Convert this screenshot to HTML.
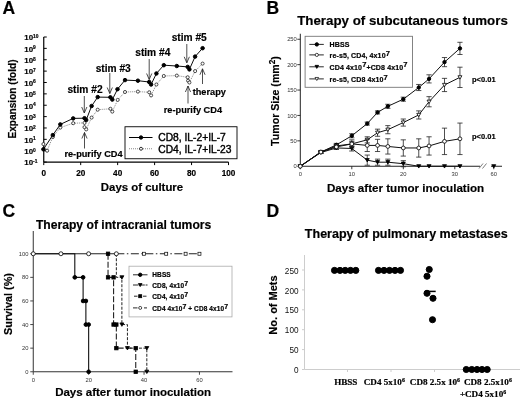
<!DOCTYPE html>
<html><head><meta charset="utf-8"><title>Figure</title>
<style>html,body{margin:0;padding:0;background:#fff}svg{display:block;filter:grayscale(1);will-change:transform}text[font-weight=bold]{stroke:#000;stroke-width:0.18px}</style>
</head><body>
<svg width="520" height="399" viewBox="0 0 520 399" font-family='"Liberation Sans", Arial, Helvetica, sans-serif'>
<rect width="520" height="399" fill="#fff"/>
<g id="panelA">
<text x="2.5" y="14" font-size="17.5" font-weight="bold" text-anchor="start" fill="#000" >A</text>
<line x1="43.75" y1="37.00" x2="43.75" y2="162.10" stroke="#000" stroke-width="1.2" />
<line x1="43.75" y1="162.10" x2="228.50" y2="162.10" stroke="#000" stroke-width="1.2" />
<line x1="43.75" y1="162.10" x2="46.75" y2="162.10" stroke="#000" stroke-width="1" />
<text x="24.3" y="165.40" font-size="7.9" font-weight="bold">10<tspan font-size="4.9" dy="-2.3">-1</tspan></text>
<line x1="43.75" y1="150.73" x2="46.75" y2="150.73" stroke="#000" stroke-width="1" />
<text x="24.3" y="154.03" font-size="7.9" font-weight="bold">10<tspan font-size="4.9" dy="-2.3">0</tspan></text>
<line x1="43.75" y1="139.35" x2="46.75" y2="139.35" stroke="#000" stroke-width="1" />
<text x="24.3" y="142.65" font-size="7.9" font-weight="bold">10<tspan font-size="4.9" dy="-2.3">1</tspan></text>
<line x1="43.75" y1="127.98" x2="46.75" y2="127.98" stroke="#000" stroke-width="1" />
<text x="24.3" y="131.28" font-size="7.9" font-weight="bold">10<tspan font-size="4.9" dy="-2.3">2</tspan></text>
<line x1="43.75" y1="116.61" x2="46.75" y2="116.61" stroke="#000" stroke-width="1" />
<text x="24.3" y="119.91" font-size="7.9" font-weight="bold">10<tspan font-size="4.9" dy="-2.3">3</tspan></text>
<line x1="43.75" y1="105.24" x2="46.75" y2="105.24" stroke="#000" stroke-width="1" />
<text x="24.3" y="108.54" font-size="7.9" font-weight="bold">10<tspan font-size="4.9" dy="-2.3">4</tspan></text>
<line x1="43.75" y1="93.86" x2="46.75" y2="93.86" stroke="#000" stroke-width="1" />
<text x="24.3" y="97.16" font-size="7.9" font-weight="bold">10<tspan font-size="4.9" dy="-2.3">5</tspan></text>
<line x1="43.75" y1="82.49" x2="46.75" y2="82.49" stroke="#000" stroke-width="1" />
<text x="24.3" y="85.79" font-size="7.9" font-weight="bold">10<tspan font-size="4.9" dy="-2.3">6</tspan></text>
<line x1="43.75" y1="71.12" x2="46.75" y2="71.12" stroke="#000" stroke-width="1" />
<text x="24.3" y="74.42" font-size="7.9" font-weight="bold">10<tspan font-size="4.9" dy="-2.3">7</tspan></text>
<line x1="43.75" y1="59.75" x2="46.75" y2="59.75" stroke="#000" stroke-width="1" />
<text x="24.3" y="63.05" font-size="7.9" font-weight="bold">10<tspan font-size="4.9" dy="-2.3">8</tspan></text>
<line x1="43.75" y1="48.37" x2="46.75" y2="48.37" stroke="#000" stroke-width="1" />
<text x="24.3" y="51.67" font-size="7.9" font-weight="bold">10<tspan font-size="4.9" dy="-2.3">9</tspan></text>
<line x1="43.75" y1="37.00" x2="46.75" y2="37.00" stroke="#000" stroke-width="1" />
<text x="24.3" y="40.30" font-size="7.9" font-weight="bold">10<tspan font-size="4.9" dy="-2.3">10</tspan></text>
<line x1="43.75" y1="162.10" x2="43.75" y2="165.10" stroke="#000" stroke-width="1" />
<text x="43.75" y="175.8" font-size="8.2" font-weight="bold" text-anchor="middle" fill="#000" >0</text>
<line x1="80.70" y1="162.10" x2="80.70" y2="165.10" stroke="#000" stroke-width="1" />
<text x="80.70" y="175.8" font-size="8.2" font-weight="bold" text-anchor="middle" fill="#000" >20</text>
<line x1="117.65" y1="162.10" x2="117.65" y2="165.10" stroke="#000" stroke-width="1" />
<text x="117.65" y="175.8" font-size="8.2" font-weight="bold" text-anchor="middle" fill="#000" >40</text>
<line x1="154.60" y1="162.10" x2="154.60" y2="165.10" stroke="#000" stroke-width="1" />
<text x="154.60" y="175.8" font-size="8.2" font-weight="bold" text-anchor="middle" fill="#000" >60</text>
<line x1="191.55" y1="162.10" x2="191.55" y2="165.10" stroke="#000" stroke-width="1" />
<text x="191.55" y="175.8" font-size="8.2" font-weight="bold" text-anchor="middle" fill="#000" >80</text>
<line x1="228.50" y1="162.10" x2="228.50" y2="165.10" stroke="#000" stroke-width="1" />
<text x="228.50" y="175.8" font-size="8.2" font-weight="bold" text-anchor="middle" fill="#000" >100</text>
<text x="142" y="191.3" font-size="11.4" font-weight="bold" text-anchor="middle" fill="#000" >Days of culture</text>
<text transform="translate(16,99) rotate(-90)" font-size="10.1" font-weight="bold" text-anchor="middle">Expansion (fold)</text>
<polyline points="43.40,144.10 47.10,150.70 52.80,137.00 60.30,127.60 73.20,123.20 84.50,122.90 84.50,127.20 86.20,129.40 91.60,117.60 97.70,109.70 110.40,108.80 112.30,111.60 117.70,99.90 125.00,92.00 137.90,91.60 149.20,92.30 151.10,95.40 156.40,84.50 163.80,76.00 176.80,75.60 187.70,77.30 188.10,80.70 189.40,82.50 195.10,71.10 202.60,63.60" fill="none" stroke="#555" stroke-width="0.7" stroke-dasharray="1,1"/>
<polyline points="43.40,149.30 52.80,135.10 60.30,124.40 73.20,118.40 84.50,118.20 86.20,120.00 91.60,106.00 97.70,97.10 110.40,97.30 112.30,99.60 117.50,89.20 125.00,80.10 137.90,80.70 149.20,82.00 151.10,84.50 156.40,73.50 163.80,65.20 176.80,66.00 187.70,66.90 189.40,69.40 195.10,56.60 202.60,48.20" fill="none" stroke="#000" stroke-width="0.95" />
<circle cx="43.40" cy="144.10" r="1.55" fill="#fff" stroke="#111" stroke-width="0.75"/>
<circle cx="47.10" cy="150.70" r="1.55" fill="#fff" stroke="#111" stroke-width="0.75"/>
<circle cx="52.80" cy="137.00" r="1.55" fill="#fff" stroke="#111" stroke-width="0.75"/>
<circle cx="60.30" cy="127.60" r="1.55" fill="#fff" stroke="#111" stroke-width="0.75"/>
<circle cx="73.20" cy="123.20" r="1.55" fill="#fff" stroke="#111" stroke-width="0.75"/>
<circle cx="84.50" cy="122.90" r="1.55" fill="#fff" stroke="#111" stroke-width="0.75"/>
<circle cx="84.50" cy="127.20" r="1.55" fill="#fff" stroke="#111" stroke-width="0.75"/>
<circle cx="86.20" cy="129.40" r="1.55" fill="#fff" stroke="#111" stroke-width="0.75"/>
<circle cx="91.60" cy="117.60" r="1.55" fill="#fff" stroke="#111" stroke-width="0.75"/>
<circle cx="97.70" cy="109.70" r="1.55" fill="#fff" stroke="#111" stroke-width="0.75"/>
<circle cx="110.40" cy="108.80" r="1.55" fill="#fff" stroke="#111" stroke-width="0.75"/>
<circle cx="112.30" cy="111.60" r="1.55" fill="#fff" stroke="#111" stroke-width="0.75"/>
<circle cx="117.70" cy="99.90" r="1.55" fill="#fff" stroke="#111" stroke-width="0.75"/>
<circle cx="125.00" cy="92.00" r="1.55" fill="#fff" stroke="#111" stroke-width="0.75"/>
<circle cx="137.90" cy="91.60" r="1.55" fill="#fff" stroke="#111" stroke-width="0.75"/>
<circle cx="149.20" cy="92.30" r="1.55" fill="#fff" stroke="#111" stroke-width="0.75"/>
<circle cx="151.10" cy="95.40" r="1.55" fill="#fff" stroke="#111" stroke-width="0.75"/>
<circle cx="156.40" cy="84.50" r="1.55" fill="#fff" stroke="#111" stroke-width="0.75"/>
<circle cx="163.80" cy="76.00" r="1.55" fill="#fff" stroke="#111" stroke-width="0.75"/>
<circle cx="176.80" cy="75.60" r="1.55" fill="#fff" stroke="#111" stroke-width="0.75"/>
<circle cx="187.70" cy="77.30" r="1.55" fill="#fff" stroke="#111" stroke-width="0.75"/>
<circle cx="188.10" cy="80.70" r="1.55" fill="#fff" stroke="#111" stroke-width="0.75"/>
<circle cx="189.40" cy="82.50" r="1.55" fill="#fff" stroke="#111" stroke-width="0.75"/>
<circle cx="195.10" cy="71.10" r="1.55" fill="#fff" stroke="#111" stroke-width="0.75"/>
<circle cx="202.60" cy="63.60" r="1.55" fill="#fff" stroke="#111" stroke-width="0.75"/>
<circle cx="43.40" cy="149.30" r="1.75" fill="#000" stroke="#000" stroke-width="1"/>
<circle cx="52.80" cy="135.10" r="1.75" fill="#000" stroke="#000" stroke-width="1"/>
<circle cx="60.30" cy="124.40" r="1.75" fill="#000" stroke="#000" stroke-width="1"/>
<circle cx="73.20" cy="118.40" r="1.75" fill="#000" stroke="#000" stroke-width="1"/>
<circle cx="84.50" cy="118.20" r="1.75" fill="#000" stroke="#000" stroke-width="1"/>
<circle cx="86.20" cy="120.00" r="1.75" fill="#000" stroke="#000" stroke-width="1"/>
<circle cx="91.60" cy="106.00" r="1.75" fill="#000" stroke="#000" stroke-width="1"/>
<circle cx="97.70" cy="97.10" r="1.75" fill="#000" stroke="#000" stroke-width="1"/>
<circle cx="110.40" cy="97.30" r="1.75" fill="#000" stroke="#000" stroke-width="1"/>
<circle cx="112.30" cy="99.60" r="1.75" fill="#000" stroke="#000" stroke-width="1"/>
<circle cx="117.50" cy="89.20" r="1.75" fill="#000" stroke="#000" stroke-width="1"/>
<circle cx="125.00" cy="80.10" r="1.75" fill="#000" stroke="#000" stroke-width="1"/>
<circle cx="137.90" cy="80.70" r="1.75" fill="#000" stroke="#000" stroke-width="1"/>
<circle cx="149.20" cy="82.00" r="1.75" fill="#000" stroke="#000" stroke-width="1"/>
<circle cx="151.10" cy="84.50" r="1.75" fill="#000" stroke="#000" stroke-width="1"/>
<circle cx="156.40" cy="73.50" r="1.75" fill="#000" stroke="#000" stroke-width="1"/>
<circle cx="163.80" cy="65.20" r="1.75" fill="#000" stroke="#000" stroke-width="1"/>
<circle cx="176.80" cy="66.00" r="1.75" fill="#000" stroke="#000" stroke-width="1"/>
<circle cx="187.70" cy="66.90" r="1.75" fill="#000" stroke="#000" stroke-width="1"/>
<circle cx="189.40" cy="69.40" r="1.75" fill="#000" stroke="#000" stroke-width="1"/>
<circle cx="195.10" cy="56.60" r="1.75" fill="#000" stroke="#000" stroke-width="1"/>
<circle cx="202.60" cy="48.20" r="1.75" fill="#000" stroke="#000" stroke-width="1"/>
<text x="85" y="93" font-size="10.2" font-weight="bold" text-anchor="middle" fill="#000" >stim #2</text>
<line x1="84.30" y1="96.00" x2="84.30" y2="113.00" stroke="#222" stroke-width="0.8" />
<polyline points="81.70,107.00 84.30,113.00 86.90,107.00" fill="none" stroke="#222" stroke-width="0.8" />
<text x="113.2" y="71.5" font-size="10.2" font-weight="bold" text-anchor="middle" fill="#000" >stim #3</text>
<line x1="109.80" y1="73.00" x2="109.80" y2="93.50" stroke="#222" stroke-width="0.8" />
<polyline points="107.20,87.50 109.80,93.50 112.40,87.50" fill="none" stroke="#222" stroke-width="0.8" />
<text x="152.8" y="55.7" font-size="10.2" font-weight="bold" text-anchor="middle" fill="#000" >stim #4</text>
<line x1="149.20" y1="59.00" x2="149.20" y2="79.50" stroke="#222" stroke-width="0.8" />
<polyline points="146.60,73.50 149.20,79.50 151.80,73.50" fill="none" stroke="#222" stroke-width="0.8" />
<text x="189.2" y="40.5" font-size="10.2" font-weight="bold" text-anchor="middle" fill="#000" >stim #5</text>
<line x1="186.80" y1="44.00" x2="186.80" y2="62.80" stroke="#222" stroke-width="0.8" />
<polyline points="184.20,56.80 186.80,62.80 189.40,56.80" fill="none" stroke="#222" stroke-width="0.8" />
<text x="93.5" y="157" font-size="9.2" font-weight="bold" text-anchor="middle" fill="#000" >re-purify CD4</text>
<line x1="84.50" y1="148.50" x2="84.50" y2="132.50" stroke="#222" stroke-width="0.8" />
<polyline points="81.90,138.50 84.50,132.50 87.10,138.50" fill="none" stroke="#222" stroke-width="0.8" />
<text x="192.9" y="112.7" font-size="9.2" font-weight="bold" text-anchor="middle" fill="#000" >re-purify CD4</text>
<line x1="188.00" y1="103.50" x2="188.00" y2="86.00" stroke="#222" stroke-width="0.8" />
<polyline points="185.40,92.00 188.00,86.00 190.60,92.00" fill="none" stroke="#222" stroke-width="0.8" />
<text x="209.3" y="95.2" font-size="9.2" font-weight="bold" text-anchor="middle" fill="#000" >therapy</text>
<line x1="202.50" y1="84.00" x2="202.50" y2="68.80" stroke="#222" stroke-width="0.8" />
<polyline points="199.90,74.80 202.50,68.80 205.10,74.80" fill="none" stroke="#222" stroke-width="0.8" />
<rect x="125" y="126.75" width="112" height="32" fill="#fff" stroke="#000" stroke-width="0.9"/>
<line x1="129.00" y1="137.50" x2="152.50" y2="137.50" stroke="#000" stroke-width="1" />
<circle cx="141.00" cy="137.50" r="1.7" fill="#000" stroke="#000" stroke-width="1"/>
<line x1="129.00" y1="148.75" x2="152.50" y2="148.75" stroke="#555" stroke-width="0.7" stroke-dasharray="1,1"/>
<circle cx="141.00" cy="148.75" r="1.5" fill="#fff" stroke="#000" stroke-width="0.8"/>
<text x="158.3" y="141.2" font-size="10.25" font-weight="normal" text-anchor="start" fill="#000" stroke="#000" stroke-width="0.4">CD8, IL-2+IL-7</text>
<text x="158.3" y="152.5" font-size="10.25" font-weight="normal" text-anchor="start" fill="#000" stroke="#000" stroke-width="0.4">CD4, IL-7+IL-23</text>
</g>
<g id="panelB">
<text x="266.5" y="14" font-size="17.5" font-weight="bold" text-anchor="start" fill="#000" >B</text>
<text x="402.5" y="24.9" font-size="13.3" font-weight="bold" text-anchor="middle" fill="#000" >Therapy of subcutaneous tumors</text>
<line x1="300.30" y1="33.75" x2="300.30" y2="166.25" stroke="#222" stroke-width="1" />
<line x1="300.30" y1="166.25" x2="480.00" y2="166.25" stroke="#222" stroke-width="1" />
<line x1="491.00" y1="166.25" x2="502.00" y2="166.25" stroke="#222" stroke-width="1" />
<line x1="479.00" y1="168.50" x2="483.00" y2="163.50" stroke="#444" stroke-width="0.7" />
<line x1="482.50" y1="168.50" x2="486.50" y2="163.50" stroke="#444" stroke-width="0.7" />
<line x1="297.30" y1="166.25" x2="300.30" y2="166.25" stroke="#222" stroke-width="0.9" />
<text x="296.8" y="168.35" font-size="5.8" font-weight="normal" text-anchor="end" fill="#333" >0</text>
<line x1="297.30" y1="140.85" x2="300.30" y2="140.85" stroke="#222" stroke-width="0.9" />
<text x="296.8" y="142.95" font-size="5.8" font-weight="normal" text-anchor="end" fill="#333" >50</text>
<line x1="297.30" y1="115.45" x2="300.30" y2="115.45" stroke="#222" stroke-width="0.9" />
<text x="296.8" y="117.55" font-size="5.8" font-weight="normal" text-anchor="end" fill="#333" >100</text>
<line x1="297.30" y1="90.05" x2="300.30" y2="90.05" stroke="#222" stroke-width="0.9" />
<text x="296.8" y="92.15" font-size="5.8" font-weight="normal" text-anchor="end" fill="#333" >150</text>
<line x1="297.30" y1="64.65" x2="300.30" y2="64.65" stroke="#222" stroke-width="0.9" />
<text x="296.8" y="66.75" font-size="5.8" font-weight="normal" text-anchor="end" fill="#333" >200</text>
<line x1="297.30" y1="39.25" x2="300.30" y2="39.25" stroke="#222" stroke-width="0.9" />
<text x="296.8" y="41.35" font-size="5.8" font-weight="normal" text-anchor="end" fill="#333" >250</text>
<line x1="300.30" y1="166.25" x2="300.30" y2="169.25" stroke="#222" stroke-width="0.9" />
<text x="300.30" y="176" font-size="5.8" font-weight="normal" text-anchor="middle" fill="#333" >0</text>
<line x1="351.80" y1="166.25" x2="351.80" y2="169.25" stroke="#222" stroke-width="0.9" />
<text x="351.80" y="176" font-size="5.8" font-weight="normal" text-anchor="middle" fill="#333" >10</text>
<line x1="403.30" y1="166.25" x2="403.30" y2="169.25" stroke="#222" stroke-width="0.9" />
<text x="403.30" y="176" font-size="5.8" font-weight="normal" text-anchor="middle" fill="#333" >20</text>
<line x1="454.80" y1="166.25" x2="454.80" y2="169.25" stroke="#222" stroke-width="0.9" />
<text x="454.80" y="176" font-size="5.8" font-weight="normal" text-anchor="middle" fill="#333" >30</text>
<line x1="493.75" y1="166.25" x2="493.75" y2="169.25" stroke="#222" stroke-width="0.9" />
<text x="493.75" y="176" font-size="5.8" font-weight="normal" text-anchor="middle" fill="#333" >60</text>
<text x="405.5" y="191.8" font-size="11.6" font-weight="bold" text-anchor="middle" fill="#000" >Days after tumor inoculation</text>
<text transform="translate(278.8,101) rotate(-90)" font-size="10.6" font-weight="bold" text-anchor="middle">Tumor Size (mm<tspan font-size="8.3" dy="-4.3">2</tspan><tspan dy="4.3">)</tspan></text>
<line x1="320.90" y1="151.01" x2="320.90" y2="153.04" stroke="#222" stroke-width="0.8" />
<line x1="318.30" y1="151.01" x2="323.50" y2="151.01" stroke="#222" stroke-width="0.8" />
<line x1="318.30" y1="153.04" x2="323.50" y2="153.04" stroke="#222" stroke-width="0.8" />
<line x1="336.35" y1="143.39" x2="336.35" y2="146.44" stroke="#222" stroke-width="0.8" />
<line x1="333.75" y1="143.39" x2="338.95" y2="143.39" stroke="#222" stroke-width="0.8" />
<line x1="333.75" y1="146.44" x2="338.95" y2="146.44" stroke="#222" stroke-width="0.8" />
<line x1="351.80" y1="133.74" x2="351.80" y2="137.80" stroke="#222" stroke-width="0.8" />
<line x1="349.20" y1="133.74" x2="354.40" y2="133.74" stroke="#222" stroke-width="0.8" />
<line x1="349.20" y1="137.80" x2="354.40" y2="137.80" stroke="#222" stroke-width="0.8" />
<line x1="367.25" y1="122.05" x2="367.25" y2="125.10" stroke="#222" stroke-width="0.8" />
<line x1="364.65" y1="122.05" x2="369.85" y2="122.05" stroke="#222" stroke-width="0.8" />
<line x1="364.65" y1="125.10" x2="369.85" y2="125.10" stroke="#222" stroke-width="0.8" />
<line x1="377.55" y1="110.88" x2="377.55" y2="113.93" stroke="#222" stroke-width="0.8" />
<line x1="374.95" y1="110.88" x2="380.15" y2="110.88" stroke="#222" stroke-width="0.8" />
<line x1="374.95" y1="113.93" x2="380.15" y2="113.93" stroke="#222" stroke-width="0.8" />
<line x1="387.85" y1="104.27" x2="387.85" y2="108.34" stroke="#222" stroke-width="0.8" />
<line x1="385.25" y1="104.27" x2="390.45" y2="104.27" stroke="#222" stroke-width="0.8" />
<line x1="385.25" y1="108.34" x2="390.45" y2="108.34" stroke="#222" stroke-width="0.8" />
<line x1="403.30" y1="97.16" x2="403.30" y2="101.23" stroke="#222" stroke-width="0.8" />
<line x1="400.70" y1="97.16" x2="405.90" y2="97.16" stroke="#222" stroke-width="0.8" />
<line x1="400.70" y1="101.23" x2="405.90" y2="101.23" stroke="#222" stroke-width="0.8" />
<line x1="418.75" y1="84.46" x2="418.75" y2="90.56" stroke="#222" stroke-width="0.8" />
<line x1="416.15" y1="84.46" x2="421.35" y2="84.46" stroke="#222" stroke-width="0.8" />
<line x1="416.15" y1="90.56" x2="421.35" y2="90.56" stroke="#222" stroke-width="0.8" />
<line x1="429.05" y1="74.81" x2="429.05" y2="82.94" stroke="#222" stroke-width="0.8" />
<line x1="426.45" y1="74.81" x2="431.65" y2="74.81" stroke="#222" stroke-width="0.8" />
<line x1="426.45" y1="82.94" x2="431.65" y2="82.94" stroke="#222" stroke-width="0.8" />
<line x1="444.50" y1="57.54" x2="444.50" y2="66.68" stroke="#222" stroke-width="0.8" />
<line x1="441.90" y1="57.54" x2="447.10" y2="57.54" stroke="#222" stroke-width="0.8" />
<line x1="441.90" y1="66.68" x2="447.10" y2="66.68" stroke="#222" stroke-width="0.8" />
<line x1="459.95" y1="42.30" x2="459.95" y2="54.49" stroke="#222" stroke-width="0.8" />
<line x1="457.35" y1="42.30" x2="462.55" y2="42.30" stroke="#222" stroke-width="0.8" />
<line x1="457.35" y1="54.49" x2="462.55" y2="54.49" stroke="#222" stroke-width="0.8" />
<polyline points="300.30,166.25 320.90,152.03 336.35,144.91 351.80,135.77 367.25,123.58 377.55,112.40 387.85,106.31 403.30,99.19 418.75,87.51 429.05,78.87 444.50,62.11 459.95,48.39" fill="none" stroke="#111" stroke-width="1.0" />
<circle cx="300.30" cy="166.25" r="1.7" fill="#000" stroke="#000" stroke-width="1"/>
<circle cx="320.90" cy="152.03" r="1.7" fill="#000" stroke="#000" stroke-width="1"/>
<circle cx="336.35" cy="144.91" r="1.7" fill="#000" stroke="#000" stroke-width="1"/>
<circle cx="351.80" cy="135.77" r="1.7" fill="#000" stroke="#000" stroke-width="1"/>
<circle cx="367.25" cy="123.58" r="1.7" fill="#000" stroke="#000" stroke-width="1"/>
<circle cx="377.55" cy="112.40" r="1.7" fill="#000" stroke="#000" stroke-width="1"/>
<circle cx="387.85" cy="106.31" r="1.7" fill="#000" stroke="#000" stroke-width="1"/>
<circle cx="403.30" cy="99.19" r="1.7" fill="#000" stroke="#000" stroke-width="1"/>
<circle cx="418.75" cy="87.51" r="1.7" fill="#000" stroke="#000" stroke-width="1"/>
<circle cx="429.05" cy="78.87" r="1.7" fill="#000" stroke="#000" stroke-width="1"/>
<circle cx="444.50" cy="62.11" r="1.7" fill="#000" stroke="#000" stroke-width="1"/>
<circle cx="459.95" cy="48.39" r="1.7" fill="#000" stroke="#000" stroke-width="1"/>
<line x1="320.90" y1="151.52" x2="320.90" y2="153.55" stroke="#222" stroke-width="0.8" />
<line x1="318.30" y1="151.52" x2="323.50" y2="151.52" stroke="#222" stroke-width="0.8" />
<line x1="318.30" y1="153.55" x2="323.50" y2="153.55" stroke="#222" stroke-width="0.8" />
<line x1="336.35" y1="146.44" x2="336.35" y2="149.49" stroke="#222" stroke-width="0.8" />
<line x1="333.75" y1="146.44" x2="338.95" y2="146.44" stroke="#222" stroke-width="0.8" />
<line x1="333.75" y1="149.49" x2="338.95" y2="149.49" stroke="#222" stroke-width="0.8" />
<line x1="351.80" y1="145.93" x2="351.80" y2="151.01" stroke="#222" stroke-width="0.8" />
<line x1="349.20" y1="145.93" x2="354.40" y2="145.93" stroke="#222" stroke-width="0.8" />
<line x1="349.20" y1="151.01" x2="354.40" y2="151.01" stroke="#222" stroke-width="0.8" />
<line x1="367.25" y1="155.07" x2="367.25" y2="165.23" stroke="#222" stroke-width="0.8" />
<line x1="364.65" y1="155.07" x2="369.85" y2="155.07" stroke="#222" stroke-width="0.8" />
<line x1="364.65" y1="165.23" x2="369.85" y2="165.23" stroke="#222" stroke-width="0.8" />
<line x1="377.55" y1="159.14" x2="377.55" y2="165.23" stroke="#222" stroke-width="0.8" />
<line x1="374.95" y1="159.14" x2="380.15" y2="159.14" stroke="#222" stroke-width="0.8" />
<line x1="374.95" y1="165.23" x2="380.15" y2="165.23" stroke="#222" stroke-width="0.8" />
<line x1="387.85" y1="159.14" x2="387.85" y2="165.23" stroke="#222" stroke-width="0.8" />
<line x1="385.25" y1="159.14" x2="390.45" y2="159.14" stroke="#222" stroke-width="0.8" />
<line x1="385.25" y1="165.23" x2="390.45" y2="165.23" stroke="#222" stroke-width="0.8" />
<line x1="403.30" y1="160.66" x2="403.30" y2="166.76" stroke="#222" stroke-width="0.8" />
<line x1="400.70" y1="160.66" x2="405.90" y2="160.66" stroke="#222" stroke-width="0.8" />
<line x1="400.70" y1="166.76" x2="405.90" y2="166.76" stroke="#222" stroke-width="0.8" />
<polyline points="300.30,166.25 320.90,152.53 336.35,147.96 351.80,148.47 367.25,160.15 377.55,162.19 387.85,162.19 403.30,163.71 418.75,166.25 429.05,166.25 444.50,166.25 459.95,166.25" fill="none" stroke="#111" stroke-width="1.0" />
<polygon points="298.30,164.65 302.30,164.65 300.30,168.05" fill="#000" stroke="#000" stroke-width="0.8"/>
<polygon points="318.90,150.93 322.90,150.93 320.90,154.33" fill="#000" stroke="#000" stroke-width="0.8"/>
<polygon points="334.35,146.36 338.35,146.36 336.35,149.76" fill="#000" stroke="#000" stroke-width="0.8"/>
<polygon points="349.80,146.87 353.80,146.87 351.80,150.27" fill="#000" stroke="#000" stroke-width="0.8"/>
<polygon points="365.25,158.55 369.25,158.55 367.25,161.95" fill="#000" stroke="#000" stroke-width="0.8"/>
<polygon points="375.55,160.59 379.55,160.59 377.55,163.99" fill="#000" stroke="#000" stroke-width="0.8"/>
<polygon points="385.85,160.59 389.85,160.59 387.85,163.99" fill="#000" stroke="#000" stroke-width="0.8"/>
<polygon points="401.30,162.11 405.30,162.11 403.30,165.51" fill="#000" stroke="#000" stroke-width="0.8"/>
<polygon points="416.75,164.65 420.75,164.65 418.75,168.05" fill="#000" stroke="#000" stroke-width="0.8"/>
<polygon points="427.05,164.65 431.05,164.65 429.05,168.05" fill="#000" stroke="#000" stroke-width="0.8"/>
<polygon points="442.50,164.65 446.50,164.65 444.50,168.05" fill="#000" stroke="#000" stroke-width="0.8"/>
<polygon points="457.95,164.65 461.95,164.65 459.95,168.05" fill="#000" stroke="#000" stroke-width="0.8"/>
<polygon points="491.75,164.65 495.75,164.65 493.75,168.05" fill="#000" stroke="#000" stroke-width="0.8"/>
<line x1="320.90" y1="151.01" x2="320.90" y2="153.04" stroke="#222" stroke-width="0.8" />
<line x1="318.30" y1="151.01" x2="323.50" y2="151.01" stroke="#222" stroke-width="0.8" />
<line x1="318.30" y1="153.04" x2="323.50" y2="153.04" stroke="#222" stroke-width="0.8" />
<line x1="336.35" y1="144.41" x2="336.35" y2="147.45" stroke="#222" stroke-width="0.8" />
<line x1="333.75" y1="144.41" x2="338.95" y2="144.41" stroke="#222" stroke-width="0.8" />
<line x1="333.75" y1="147.45" x2="338.95" y2="147.45" stroke="#222" stroke-width="0.8" />
<line x1="351.80" y1="141.36" x2="351.80" y2="146.44" stroke="#222" stroke-width="0.8" />
<line x1="349.20" y1="141.36" x2="354.40" y2="141.36" stroke="#222" stroke-width="0.8" />
<line x1="349.20" y1="146.44" x2="354.40" y2="146.44" stroke="#222" stroke-width="0.8" />
<line x1="367.25" y1="136.79" x2="367.25" y2="142.88" stroke="#222" stroke-width="0.8" />
<line x1="364.65" y1="136.79" x2="369.85" y2="136.79" stroke="#222" stroke-width="0.8" />
<line x1="364.65" y1="142.88" x2="369.85" y2="142.88" stroke="#222" stroke-width="0.8" />
<line x1="377.55" y1="129.17" x2="377.55" y2="136.28" stroke="#222" stroke-width="0.8" />
<line x1="374.95" y1="129.17" x2="380.15" y2="129.17" stroke="#222" stroke-width="0.8" />
<line x1="374.95" y1="136.28" x2="380.15" y2="136.28" stroke="#222" stroke-width="0.8" />
<line x1="387.85" y1="125.61" x2="387.85" y2="133.74" stroke="#222" stroke-width="0.8" />
<line x1="385.25" y1="125.61" x2="390.45" y2="125.61" stroke="#222" stroke-width="0.8" />
<line x1="385.25" y1="133.74" x2="390.45" y2="133.74" stroke="#222" stroke-width="0.8" />
<line x1="403.30" y1="119.01" x2="403.30" y2="126.12" stroke="#222" stroke-width="0.8" />
<line x1="400.70" y1="119.01" x2="405.90" y2="119.01" stroke="#222" stroke-width="0.8" />
<line x1="400.70" y1="126.12" x2="405.90" y2="126.12" stroke="#222" stroke-width="0.8" />
<line x1="418.75" y1="110.88" x2="418.75" y2="119.01" stroke="#222" stroke-width="0.8" />
<line x1="416.15" y1="110.88" x2="421.35" y2="110.88" stroke="#222" stroke-width="0.8" />
<line x1="416.15" y1="119.01" x2="421.35" y2="119.01" stroke="#222" stroke-width="0.8" />
<line x1="429.05" y1="96.65" x2="429.05" y2="106.81" stroke="#222" stroke-width="0.8" />
<line x1="426.45" y1="96.65" x2="431.65" y2="96.65" stroke="#222" stroke-width="0.8" />
<line x1="426.45" y1="106.81" x2="431.65" y2="106.81" stroke="#222" stroke-width="0.8" />
<line x1="444.50" y1="78.37" x2="444.50" y2="91.57" stroke="#222" stroke-width="0.8" />
<line x1="441.90" y1="78.37" x2="447.10" y2="78.37" stroke="#222" stroke-width="0.8" />
<line x1="441.90" y1="91.57" x2="447.10" y2="91.57" stroke="#222" stroke-width="0.8" />
<line x1="459.95" y1="67.19" x2="459.95" y2="87.51" stroke="#222" stroke-width="0.8" />
<line x1="457.35" y1="67.19" x2="462.55" y2="67.19" stroke="#222" stroke-width="0.8" />
<line x1="457.35" y1="87.51" x2="462.55" y2="87.51" stroke="#222" stroke-width="0.8" />
<polyline points="300.30,166.25 320.90,152.03 336.35,145.93 351.80,143.90 367.25,139.83 377.55,132.72 387.85,129.67 403.30,122.56 418.75,114.94 429.05,101.73 444.50,84.97 459.95,77.35" fill="none" stroke="#111" stroke-width="1.0" />
<polygon points="298.30,164.65 302.30,164.65 300.30,168.05" fill="#fff" stroke="#000" stroke-width="0.8"/>
<polygon points="318.90,150.43 322.90,150.43 320.90,153.83" fill="#fff" stroke="#000" stroke-width="0.8"/>
<polygon points="334.35,144.33 338.35,144.33 336.35,147.73" fill="#fff" stroke="#000" stroke-width="0.8"/>
<polygon points="349.80,142.30 353.80,142.30 351.80,145.70" fill="#fff" stroke="#000" stroke-width="0.8"/>
<polygon points="365.25,138.23 369.25,138.23 367.25,141.63" fill="#fff" stroke="#000" stroke-width="0.8"/>
<polygon points="375.55,131.12 379.55,131.12 377.55,134.52" fill="#fff" stroke="#000" stroke-width="0.8"/>
<polygon points="385.85,128.07 389.85,128.07 387.85,131.47" fill="#fff" stroke="#000" stroke-width="0.8"/>
<polygon points="401.30,120.96 405.30,120.96 403.30,124.36" fill="#fff" stroke="#000" stroke-width="0.8"/>
<polygon points="416.75,113.34 420.75,113.34 418.75,116.74" fill="#fff" stroke="#000" stroke-width="0.8"/>
<polygon points="427.05,100.13 431.05,100.13 429.05,103.53" fill="#fff" stroke="#000" stroke-width="0.8"/>
<polygon points="442.50,83.37 446.50,83.37 444.50,86.77" fill="#fff" stroke="#000" stroke-width="0.8"/>
<polygon points="457.95,75.75 461.95,75.75 459.95,79.15" fill="#fff" stroke="#000" stroke-width="0.8"/>
<line x1="320.90" y1="151.01" x2="320.90" y2="153.04" stroke="#222" stroke-width="0.8" />
<line x1="318.30" y1="151.01" x2="323.50" y2="151.01" stroke="#222" stroke-width="0.8" />
<line x1="318.30" y1="153.04" x2="323.50" y2="153.04" stroke="#222" stroke-width="0.8" />
<line x1="336.35" y1="144.91" x2="336.35" y2="148.98" stroke="#222" stroke-width="0.8" />
<line x1="333.75" y1="144.91" x2="338.95" y2="144.91" stroke="#222" stroke-width="0.8" />
<line x1="333.75" y1="148.98" x2="338.95" y2="148.98" stroke="#222" stroke-width="0.8" />
<line x1="351.80" y1="139.83" x2="351.80" y2="147.96" stroke="#222" stroke-width="0.8" />
<line x1="349.20" y1="139.83" x2="354.40" y2="139.83" stroke="#222" stroke-width="0.8" />
<line x1="349.20" y1="147.96" x2="354.40" y2="147.96" stroke="#222" stroke-width="0.8" />
<line x1="367.25" y1="139.33" x2="367.25" y2="151.52" stroke="#222" stroke-width="0.8" />
<line x1="364.65" y1="139.33" x2="369.85" y2="139.33" stroke="#222" stroke-width="0.8" />
<line x1="364.65" y1="151.52" x2="369.85" y2="151.52" stroke="#222" stroke-width="0.8" />
<line x1="377.55" y1="139.33" x2="377.55" y2="151.52" stroke="#222" stroke-width="0.8" />
<line x1="374.95" y1="139.33" x2="380.15" y2="139.33" stroke="#222" stroke-width="0.8" />
<line x1="374.95" y1="151.52" x2="380.15" y2="151.52" stroke="#222" stroke-width="0.8" />
<line x1="387.85" y1="138.82" x2="387.85" y2="154.06" stroke="#222" stroke-width="0.8" />
<line x1="385.25" y1="138.82" x2="390.45" y2="138.82" stroke="#222" stroke-width="0.8" />
<line x1="385.25" y1="154.06" x2="390.45" y2="154.06" stroke="#222" stroke-width="0.8" />
<line x1="403.30" y1="139.83" x2="403.30" y2="156.09" stroke="#222" stroke-width="0.8" />
<line x1="400.70" y1="139.83" x2="405.90" y2="139.83" stroke="#222" stroke-width="0.8" />
<line x1="400.70" y1="156.09" x2="405.90" y2="156.09" stroke="#222" stroke-width="0.8" />
<line x1="418.75" y1="138.82" x2="418.75" y2="157.11" stroke="#222" stroke-width="0.8" />
<line x1="416.15" y1="138.82" x2="421.35" y2="138.82" stroke="#222" stroke-width="0.8" />
<line x1="416.15" y1="157.11" x2="421.35" y2="157.11" stroke="#222" stroke-width="0.8" />
<line x1="429.05" y1="136.79" x2="429.05" y2="155.07" stroke="#222" stroke-width="0.8" />
<line x1="426.45" y1="136.79" x2="431.65" y2="136.79" stroke="#222" stroke-width="0.8" />
<line x1="426.45" y1="155.07" x2="431.65" y2="155.07" stroke="#222" stroke-width="0.8" />
<line x1="444.50" y1="128.15" x2="444.50" y2="154.57" stroke="#222" stroke-width="0.8" />
<line x1="441.90" y1="128.15" x2="447.10" y2="128.15" stroke="#222" stroke-width="0.8" />
<line x1="441.90" y1="154.57" x2="447.10" y2="154.57" stroke="#222" stroke-width="0.8" />
<line x1="459.95" y1="123.07" x2="459.95" y2="154.57" stroke="#222" stroke-width="0.8" />
<line x1="457.35" y1="123.07" x2="462.55" y2="123.07" stroke="#222" stroke-width="0.8" />
<line x1="457.35" y1="154.57" x2="462.55" y2="154.57" stroke="#222" stroke-width="0.8" />
<polyline points="300.30,166.25 320.90,152.03 336.35,146.95 351.80,143.90 367.25,145.42 377.55,145.42 387.85,146.44 403.30,147.96 418.75,147.96 429.05,145.93 444.50,141.36 459.95,138.82" fill="none" stroke="#111" stroke-width="1.0" />
<circle cx="300.30" cy="166.25" r="1.9" fill="#fff" stroke="#000" stroke-width="0.8"/>
<circle cx="320.90" cy="152.03" r="1.9" fill="#fff" stroke="#000" stroke-width="0.8"/>
<circle cx="336.35" cy="146.95" r="1.9" fill="#fff" stroke="#000" stroke-width="0.8"/>
<circle cx="351.80" cy="143.90" r="1.9" fill="#fff" stroke="#000" stroke-width="0.8"/>
<circle cx="367.25" cy="145.42" r="1.9" fill="#fff" stroke="#000" stroke-width="0.8"/>
<circle cx="377.55" cy="145.42" r="1.9" fill="#fff" stroke="#000" stroke-width="0.8"/>
<circle cx="387.85" cy="146.44" r="1.9" fill="#fff" stroke="#000" stroke-width="0.8"/>
<circle cx="403.30" cy="147.96" r="1.9" fill="#fff" stroke="#000" stroke-width="0.8"/>
<circle cx="418.75" cy="147.96" r="1.9" fill="#fff" stroke="#000" stroke-width="0.8"/>
<circle cx="429.05" cy="145.93" r="1.9" fill="#fff" stroke="#000" stroke-width="0.8"/>
<circle cx="444.50" cy="141.36" r="1.9" fill="#fff" stroke="#000" stroke-width="0.8"/>
<circle cx="459.95" cy="138.82" r="1.9" fill="#fff" stroke="#000" stroke-width="0.8"/>
<rect x="305.1" y="36.3" width="107.4" height="51" fill="#fff" stroke="#777" stroke-width="0.9"/>
<line x1="309.30" y1="44.40" x2="323.80" y2="44.40" stroke="#111" stroke-width="0.9" />
<line x1="309.30" y1="54.90" x2="323.80" y2="54.90" stroke="#111" stroke-width="0.9" />
<line x1="309.30" y1="66.80" x2="323.80" y2="66.80" stroke="#111" stroke-width="0.9" />
<line x1="309.30" y1="78.90" x2="323.80" y2="78.90" stroke="#111" stroke-width="0.9" />
<circle cx="316.80" cy="44.40" r="1.7" fill="#000" stroke="#000" stroke-width="1"/>
<circle cx="316.80" cy="54.90" r="1.6" fill="#fff" stroke="#000" stroke-width="0.7"/>
<polygon points="315.00,65.36 318.60,65.36 316.80,68.42" fill="#000" stroke="#000" stroke-width="0.8"/>
<polygon points="315.00,77.46 318.60,77.46 316.80,80.52" fill="#fff" stroke="#000" stroke-width="0.7"/>
<text x="329.6" y="46.9" font-size="7.05" font-weight="bold" text-anchor="start" fill="#000" letter-spacing="0.1">HBSS</text>
<text x="329.6" y="57.8" font-size="7.05" font-weight="bold" letter-spacing="0.1">re-s5, CD4, 4x10<tspan font-size="7.6" dy="-2.3">7</tspan></text>
<text x="329.6" y="69.7" font-size="7.05" font-weight="bold" letter-spacing="0.1">CD4 4x10<tspan font-size="7.6" dy="-2.3">7</tspan><tspan dy="2.3">+CD8 4x10</tspan><tspan font-size="7.6" dy="-2.3">7</tspan></text>
<text x="329.6" y="81.80000000000001" font-size="7.05" font-weight="bold" letter-spacing="0.1">re-s5, CD8 4x10<tspan font-size="7.6" dy="-2.3">7</tspan></text>
<text x="472" y="82.2" font-size="7.5" font-weight="bold" text-anchor="start" fill="#000" >p&lt;0.01</text>
<text x="472" y="138.5" font-size="7.5" font-weight="bold" text-anchor="start" fill="#000" >p&lt;0.01</text>
</g>
<g id="panelC">
<text x="2.5" y="217.3" font-size="17.5" font-weight="bold" text-anchor="start" fill="#000" >C</text>
<text x="123.6" y="229" font-size="12.15" font-weight="bold" text-anchor="middle" fill="#000" >Therapy of intracranial tumors</text>
<line x1="33.25" y1="231.00" x2="33.25" y2="371.75" stroke="#333" stroke-width="1" />
<line x1="33.25" y1="371.75" x2="232.50" y2="371.75" stroke="#333" stroke-width="1" />
<line x1="30.25" y1="371.75" x2="33.25" y2="371.75" stroke="#333" stroke-width="0.9" />
<text x="28.5" y="373.85" font-size="5.8" font-weight="normal" text-anchor="end" fill="#333" >0</text>
<line x1="30.25" y1="348.15" x2="33.25" y2="348.15" stroke="#333" stroke-width="0.9" />
<text x="28.5" y="350.25" font-size="5.8" font-weight="normal" text-anchor="end" fill="#333" >20</text>
<line x1="30.25" y1="324.55" x2="33.25" y2="324.55" stroke="#333" stroke-width="0.9" />
<text x="28.5" y="326.65" font-size="5.8" font-weight="normal" text-anchor="end" fill="#333" >40</text>
<line x1="30.25" y1="300.95" x2="33.25" y2="300.95" stroke="#333" stroke-width="0.9" />
<text x="28.5" y="303.05" font-size="5.8" font-weight="normal" text-anchor="end" fill="#333" >60</text>
<line x1="30.25" y1="277.35" x2="33.25" y2="277.35" stroke="#333" stroke-width="0.9" />
<text x="28.5" y="279.45" font-size="5.8" font-weight="normal" text-anchor="end" fill="#333" >80</text>
<line x1="30.25" y1="253.75" x2="33.25" y2="253.75" stroke="#333" stroke-width="0.9" />
<text x="28.5" y="255.85" font-size="5.8" font-weight="normal" text-anchor="end" fill="#333" >100</text>
<line x1="33.25" y1="371.75" x2="33.25" y2="374.75" stroke="#333" stroke-width="0.9" />
<text x="33.25" y="382.2" font-size="5.8" font-weight="normal" text-anchor="middle" fill="#333" >0</text>
<line x1="88.65" y1="371.75" x2="88.65" y2="374.75" stroke="#333" stroke-width="0.9" />
<text x="88.65" y="382.2" font-size="5.8" font-weight="normal" text-anchor="middle" fill="#333" >20</text>
<line x1="144.05" y1="371.75" x2="144.05" y2="374.75" stroke="#333" stroke-width="0.9" />
<text x="144.05" y="382.2" font-size="5.8" font-weight="normal" text-anchor="middle" fill="#333" >40</text>
<line x1="199.45" y1="371.75" x2="199.45" y2="374.75" stroke="#333" stroke-width="0.9" />
<text x="199.45" y="382.2" font-size="5.8" font-weight="normal" text-anchor="middle" fill="#333" >60</text>
<text x="133.1" y="395.8" font-size="11.5" font-weight="bold" text-anchor="middle" fill="#000" >Days after tumor inoculation</text>
<text transform="translate(12.2,304) rotate(-90)" font-size="10.8" font-weight="bold" text-anchor="middle">Survival (%)</text>
<polyline points="33.25,253.75 116.35,253.75" fill="none" stroke="#222" stroke-width="1.0" />
<polyline points="116.35,253.75 199.45,253.75" fill="none" stroke="#222" stroke-width="1.0" stroke-dasharray="8,2.5,1.5,2.5"/>
<polyline points="116.35,253.75 116.35,277.35 121.89,277.35 121.89,324.55 127.43,324.55 127.43,348.15 146.82,348.15 146.82,371.75" fill="none" stroke="#222" stroke-width="1.0" stroke-dasharray="3,1.5"/>
<polyline points="108.04,253.75 108.04,277.35 113.58,277.35 113.58,324.55 116.35,324.55 116.35,348.15 135.74,348.15 135.74,371.75" fill="none" stroke="#222" stroke-width="1.1" stroke-dasharray="6,2"/>
<polyline points="33.25,253.75 74.80,253.75 74.80,277.35 83.11,277.35 83.11,300.95 85.88,300.95 85.88,324.55 88.65,324.55 88.65,371.75" fill="none" stroke="#111" stroke-width="1.1" />
<circle cx="74.80" cy="277.35" r="1.85" fill="#000" stroke="#000" stroke-width="1"/>
<circle cx="83.11" cy="277.35" r="1.85" fill="#000" stroke="#000" stroke-width="1"/>
<circle cx="83.11" cy="300.95" r="1.85" fill="#000" stroke="#000" stroke-width="1"/>
<circle cx="85.88" cy="300.95" r="1.85" fill="#000" stroke="#000" stroke-width="1"/>
<circle cx="85.88" cy="324.55" r="1.85" fill="#000" stroke="#000" stroke-width="1"/>
<circle cx="88.65" cy="324.55" r="1.85" fill="#000" stroke="#000" stroke-width="1"/>
<circle cx="88.65" cy="371.75" r="1.85" fill="#000" stroke="#000" stroke-width="1"/>
<polygon points="119.89,275.75 123.89,275.75 121.89,279.15" fill="#000" stroke="#000" stroke-width="0.8"/>
<polygon points="119.89,322.95 123.89,322.95 121.89,326.35" fill="#000" stroke="#000" stroke-width="0.8"/>
<polygon points="125.43,346.55 129.43,346.55 127.43,349.95" fill="#000" stroke="#000" stroke-width="0.8"/>
<polygon points="144.82,346.55 148.82,346.55 146.82,349.95" fill="#000" stroke="#000" stroke-width="0.8"/>
<polygon points="144.82,370.15 148.82,370.15 146.82,373.55" fill="#000" stroke="#000" stroke-width="0.8"/>
<rect x="106.34" y="252.05" width="3.4" height="3.4" fill="#000" stroke="#000" stroke-width="0.8"/>
<rect x="106.34" y="275.65" width="3.4" height="3.4" fill="#000" stroke="#000" stroke-width="0.8"/>
<rect x="111.88" y="275.65" width="3.4" height="3.4" fill="#000" stroke="#000" stroke-width="0.8"/>
<rect x="111.88" y="322.85" width="3.4" height="3.4" fill="#000" stroke="#000" stroke-width="0.8"/>
<rect x="114.65" y="322.85" width="3.4" height="3.4" fill="#000" stroke="#000" stroke-width="0.8"/>
<rect x="114.65" y="346.45" width="3.4" height="3.4" fill="#000" stroke="#000" stroke-width="0.8"/>
<rect x="134.04" y="346.45" width="3.4" height="3.4" fill="#000" stroke="#000" stroke-width="0.8"/>
<rect x="134.04" y="370.05" width="3.4" height="3.4" fill="#000" stroke="#000" stroke-width="0.8"/>
<circle cx="33.25" cy="253.75" r="2.0" fill="#fff" stroke="#000" stroke-width="0.8"/>
<circle cx="60.95" cy="253.75" r="2.0" fill="#fff" stroke="#000" stroke-width="0.8"/>
<circle cx="88.65" cy="253.75" r="2.0" fill="#fff" stroke="#000" stroke-width="0.8"/>
<circle cx="116.35" cy="253.75" r="2.0" fill="#fff" stroke="#000" stroke-width="0.8"/>
<rect x="142.55" y="252.25" width="3.0" height="3.0" fill="#fff" stroke="#000" stroke-width="0.7"/>
<rect x="164.71" y="252.25" width="3.0" height="3.0" fill="#fff" stroke="#000" stroke-width="0.7"/>
<rect x="184.10" y="252.25" width="3.0" height="3.0" fill="#fff" stroke="#000" stroke-width="0.7"/>
<rect x="197.95" y="252.25" width="3.0" height="3.0" fill="#fff" stroke="#000" stroke-width="0.7"/>
<rect x="129" y="266.2" width="103" height="50.7" fill="#fff" stroke="#aaa" stroke-width="0.8"/>
<line x1="133.00" y1="274.80" x2="147.50" y2="274.80" stroke="#111" stroke-width="0.9" />
<circle cx="140.20" cy="274.80" r="1.7" fill="#000" stroke="#000" stroke-width="1"/>
<line x1="133.00" y1="285.00" x2="147.50" y2="285.00" stroke="#111" stroke-width="0.9" stroke-dasharray="5.5,0.8"/>
<polygon points="138.40,283.56 142.00,283.56 140.20,286.62" fill="#000" stroke="#000" stroke-width="0.8"/>
<line x1="134.00" y1="296.20" x2="146.50" y2="296.20" stroke="#111" stroke-width="0.9" stroke-dasharray="3.5,5.5"/>
<rect x="138.70" y="294.70" width="3.0" height="3.0" fill="#000" stroke="#000" stroke-width="0.8"/>
<line x1="133.00" y1="307.90" x2="147.00" y2="307.90" stroke="#111" stroke-width="0.9" stroke-dasharray="4.5,6.5,3,9"/>
<circle cx="140.20" cy="307.90" r="1.5" fill="#fff" stroke="#000" stroke-width="0.7"/>
<text x="152.3" y="277.2" font-size="6.5" font-weight="bold" text-anchor="start" fill="#000" letter-spacing="0.1">HBSS</text>
<text x="152.3" y="287.9" font-size="6.5" font-weight="bold" letter-spacing="0.1">CD8, 4x10<tspan font-size="7" dy="-2.3">7</tspan></text>
<text x="152.3" y="299.09999999999997" font-size="6.5" font-weight="bold" letter-spacing="0.1">CD4, 4x10<tspan font-size="7" dy="-2.3">7</tspan></text>
<text x="152.3" y="310.79999999999995" font-size="6.5" font-weight="bold" letter-spacing="0.1">CD4 4x10<tspan font-size="7" dy="-2.3">7</tspan><tspan dy="2.3"> + CD8 4x10</tspan><tspan font-size="7" dy="-2.3">7</tspan></text>
</g>
<g id="panelD">
<text x="266.5" y="217.3" font-size="17.5" font-weight="bold" text-anchor="start" fill="#000" >D</text>
<text x="406.3" y="238.3" font-size="12.5" font-weight="bold" text-anchor="middle" fill="#000" >Therapy of pulmonary metastases</text>
<line x1="304.50" y1="255.00" x2="304.50" y2="369.50" stroke="#cdcdcd" stroke-width="1" />
<line x1="304.50" y1="369.50" x2="520.00" y2="369.50" stroke="#cdcdcd" stroke-width="1" />
<line x1="302.00" y1="369.50" x2="304.50" y2="369.50" stroke="#cdcdcd" stroke-width="1" />
<text x="298.5" y="373.10" font-size="8.2" font-weight="normal" text-anchor="end" fill="#111" >0</text>
<line x1="302.00" y1="349.60" x2="304.50" y2="349.60" stroke="#cdcdcd" stroke-width="1" />
<text x="298.5" y="353.20" font-size="8.2" font-weight="normal" text-anchor="end" fill="#111" >50</text>
<line x1="302.00" y1="329.70" x2="304.50" y2="329.70" stroke="#cdcdcd" stroke-width="1" />
<text x="298.5" y="333.30" font-size="8.2" font-weight="normal" text-anchor="end" fill="#111" >100</text>
<line x1="302.00" y1="309.80" x2="304.50" y2="309.80" stroke="#cdcdcd" stroke-width="1" />
<text x="298.5" y="313.40" font-size="8.2" font-weight="normal" text-anchor="end" fill="#111" >150</text>
<line x1="302.00" y1="289.90" x2="304.50" y2="289.90" stroke="#cdcdcd" stroke-width="1" />
<text x="298.5" y="293.50" font-size="8.2" font-weight="normal" text-anchor="end" fill="#111" >200</text>
<line x1="302.00" y1="270.00" x2="304.50" y2="270.00" stroke="#cdcdcd" stroke-width="1" />
<text x="298.5" y="273.60" font-size="8.2" font-weight="normal" text-anchor="end" fill="#111" >250</text>
<line x1="347.50" y1="369.50" x2="347.50" y2="372.00" stroke="#cdcdcd" stroke-width="1" />
<line x1="391.00" y1="369.50" x2="391.00" y2="372.00" stroke="#cdcdcd" stroke-width="1" />
<line x1="434.50" y1="369.50" x2="434.50" y2="372.00" stroke="#cdcdcd" stroke-width="1" />
<line x1="478.00" y1="369.50" x2="478.00" y2="372.00" stroke="#cdcdcd" stroke-width="1" />
<text transform="translate(277.3,305) rotate(-90)" font-size="11" font-weight="bold" text-anchor="middle">No. of Mets</text>
<circle cx="334.50" cy="270.40" r="3.05" fill="#000" stroke="#000" stroke-width="1"/>
<circle cx="340.00" cy="270.40" r="3.05" fill="#000" stroke="#000" stroke-width="1"/>
<circle cx="345.20" cy="270.40" r="3.05" fill="#000" stroke="#000" stroke-width="1"/>
<circle cx="350.50" cy="270.40" r="3.05" fill="#000" stroke="#000" stroke-width="1"/>
<circle cx="355.80" cy="270.40" r="3.05" fill="#000" stroke="#000" stroke-width="1"/>
<circle cx="378.50" cy="270.40" r="3.05" fill="#000" stroke="#000" stroke-width="1"/>
<circle cx="384.00" cy="270.40" r="3.05" fill="#000" stroke="#000" stroke-width="1"/>
<circle cx="389.50" cy="270.40" r="3.05" fill="#000" stroke="#000" stroke-width="1"/>
<circle cx="395.00" cy="270.40" r="3.05" fill="#000" stroke="#000" stroke-width="1"/>
<circle cx="400.50" cy="270.40" r="3.05" fill="#000" stroke="#000" stroke-width="1"/>
<circle cx="429.25" cy="269.50" r="3.05" fill="#000" stroke="#000" stroke-width="1"/>
<circle cx="427.00" cy="276.25" r="3.05" fill="#000" stroke="#000" stroke-width="1"/>
<circle cx="427.00" cy="293.30" r="3.05" fill="#000" stroke="#000" stroke-width="1"/>
<circle cx="433.00" cy="298.30" r="3.05" fill="#000" stroke="#000" stroke-width="1"/>
<circle cx="432.50" cy="319.70" r="3.05" fill="#000" stroke="#000" stroke-width="1"/>
<line x1="425.00" y1="291.40" x2="435.70" y2="291.40" stroke="#000" stroke-width="1.5" />
<circle cx="466.25" cy="369.50" r="3.05" fill="#000" stroke="#000" stroke-width="1"/>
<circle cx="471.75" cy="369.50" r="3.05" fill="#000" stroke="#000" stroke-width="1"/>
<circle cx="477.00" cy="369.50" r="3.05" fill="#000" stroke="#000" stroke-width="1"/>
<circle cx="482.00" cy="369.50" r="3.05" fill="#000" stroke="#000" stroke-width="1"/>
<circle cx="487.20" cy="369.50" r="3.05" fill="#000" stroke="#000" stroke-width="1"/>
<text x="345.8" y="385" font-size="9.1" font-weight="bold" text-anchor="middle" font-family='"Liberation Serif", "Times New Roman", serif'>HBSS</text>
<text x="384.3" y="385" font-size="9.1" font-weight="bold" text-anchor="middle" font-family='"Liberation Serif", "Times New Roman", serif'>CD4 5x10<tspan font-size="5.8" dy="-3">6</tspan></text>
<text x="434.9" y="385" font-size="9.1" font-weight="bold" text-anchor="middle" font-family='"Liberation Serif", "Times New Roman", serif'>CD8 2.5x 10<tspan font-size="5.8" dy="-3">6</tspan></text>
<text x="487.9" y="385" font-size="9.1" font-weight="bold" text-anchor="middle" font-family='"Liberation Serif", "Times New Roman", serif'>CD8 2.5x10<tspan font-size="5.8" dy="-3">6</tspan></text>
<text x="483" y="397.3" font-size="9.1" font-weight="bold" text-anchor="middle" font-family='"Liberation Serif", "Times New Roman", serif'>+CD4 5x10<tspan font-size="5.8" dy="-3">6</tspan></text>
</g>
</svg>
</body></html>
